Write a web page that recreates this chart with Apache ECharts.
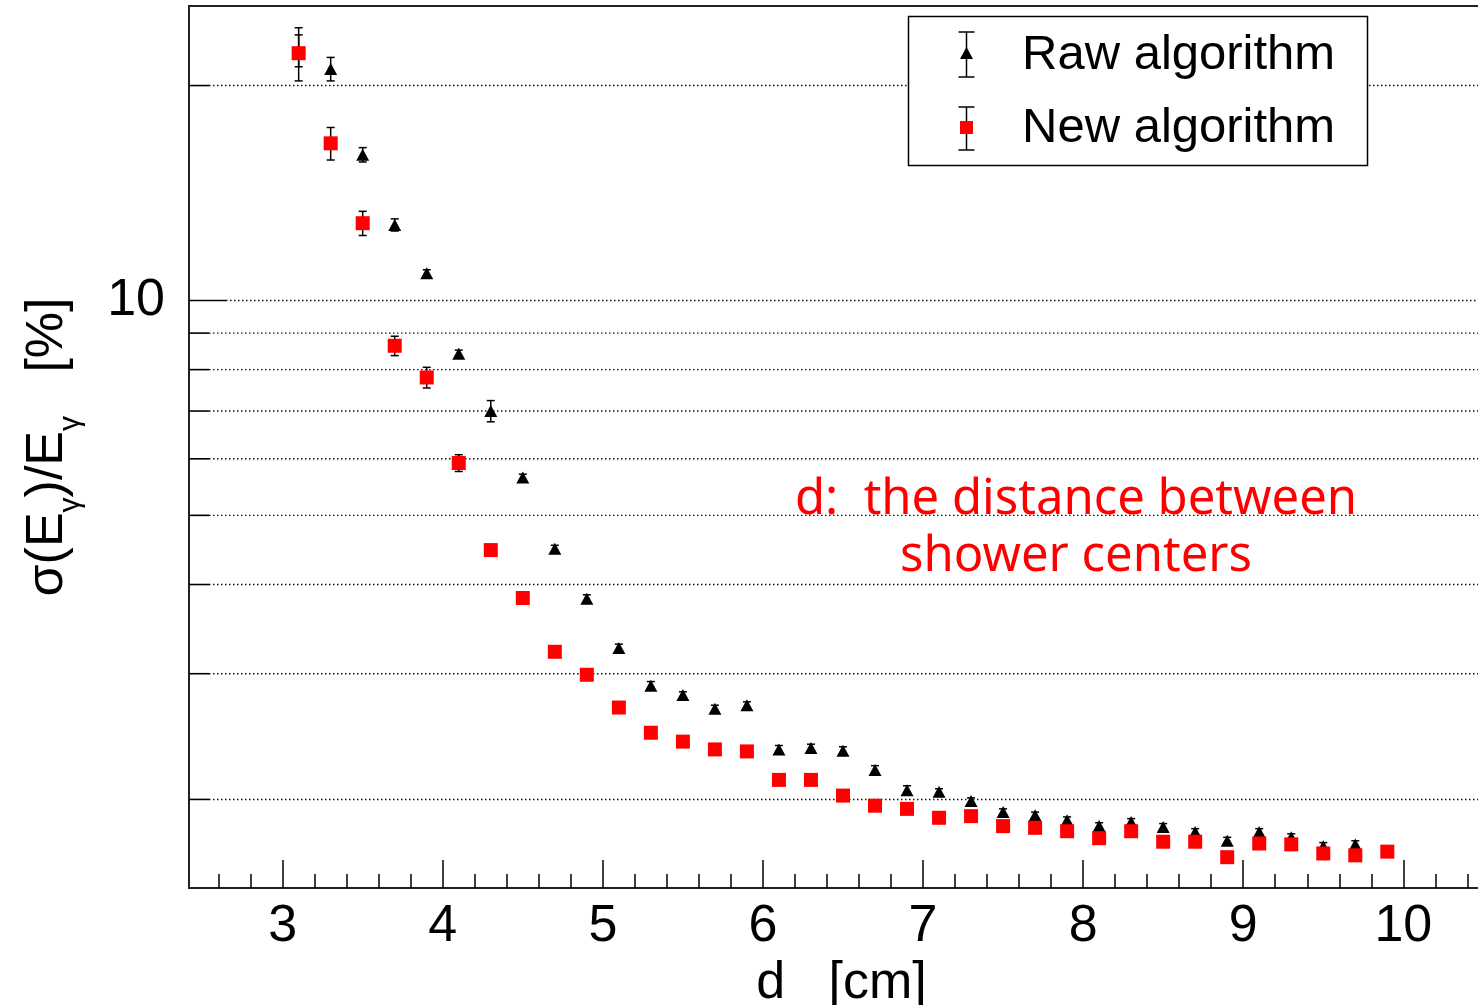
<!DOCTYPE html>
<html>
<head>
<meta charset="utf-8">
<title>Energy resolution vs shower distance</title>
<script src="https://cdn.jsdelivr.net/npm/echarts@6/dist/echarts.min.js"></script>
<style>
  html, body { margin: 0; padding: 0; background: #fff; }
  #chart { width: 1478px; height: 1005px; }
</style>
</head>
<body>
<div id="chart"></div>
<script>
// d [cm] : distance between shower centers
const distance = [3.1, 3.3, 3.5, 3.7, 3.9, 4.1, 4.3, 4.5, 4.7, 4.9,
  5.1, 5.3, 5.5, 5.7, 5.9, 6.1, 6.3, 6.5, 6.7, 6.9,
  7.1, 7.3, 7.5, 7.7, 7.9, 8.1, 8.3, 8.5, 8.7, 8.9,
  9.1, 9.3, 9.5, 9.7, 9.9]

// sigma(E)/E [%]
const rawRes = [22.4, 21.1, 16.0, 12.76, 10.92, 8.42, 7.00, 5.65, 4.49, 3.82,
  3.26, 2.885, 2.80, 2.68, 2.71, 2.35, 2.36, 2.34, 2.20, 2.06,
  2.05, 1.99, 1.92, 1.90, 1.87, 1.835, 1.86, 1.83, 1.80, 1.75,
  1.80, 1.77, 1.72, 1.73, 1.69]
const rawErr = [1.15, 0.8, 0.37, 0.25, 0.12, 0.10, 0.24, 0.06, 0.05, 0.05,
  0.04, 0.04, 0.03, 0.03, 0.03, 0.03, 0.03, 0.03, 0.03, 0.03,
  0.02, 0.02, 0.02, 0.02, 0.02, 0.02, 0.02, 0.02, 0.02, 0.02,
  0.02, 0.02, 0.02, 0.02, 0.02]
const newRes = [22.2, 16.6, 12.83, 8.64, 7.80, 5.92, 4.47, 3.83, 3.22, 2.99,
  2.69, 2.48, 2.41, 2.35, 2.335, 2.13, 2.13, 2.025, 1.96, 1.94,
  1.885, 1.895, 1.835, 1.825, 1.805, 1.765, 1.805, 1.745, 1.745, 1.66,
  1.735, 1.73, 1.68, 1.67, 1.69]
const newErr = [1.9, 0.87, 0.5, 0.27, 0.26, 0.16, 0.06, 0.05, 0.04, 0.04,
  0.04, 0.03, 0.03, 0.03, 0.03, 0.03, 0.03, 0.03, 0.02, 0.02,
  0.02, 0.02, 0.02, 0.02, 0.02, 0.02, 0.02, 0.02, 0.02, 0.02,
  0.02, 0.02, 0.02, 0.02, 0.02]

const xMajorTicks = [3, 4, 5, 6, 7, 8, 9, 10]
const xMinorTicks = [2.6, 2.8, 3.2, 3.4, 3.6, 3.8, 4.2, 4.4, 4.6, 4.8,
  5.2, 5.4, 5.6, 5.8, 6.2, 6.4, 6.6, 6.8, 7.2, 7.4, 7.6, 7.8,
  8.2, 8.4, 8.6, 8.8, 9.2, 9.4, 9.6, 9.8, 10.2, 10.4]
const yGridValues = [2, 3, 4, 5, 6, 7, 8, 9, 10, 20]
const yMajorTicks = [10]

const xMin = 2.415
const xMax = 10.479
const yMin = 1.503
const yMax = 25.85

const FONT = '"Liberation Sans", Arial, Helvetica, sans-serif'
const NOTE_FONT = '49px "Noto Sans", "Noto Sans CJK SC", sans-serif'

const chart = echarts.init(document.getElementById('chart'))

// error bar: vertical line with small caps
const errorBarItem = (params, api) => {
  const x = api.value(0)
  const y = api.value(1)
  const e = api.value(2)
  const top = api.coord([x, y + e])
  const bot = api.coord([x, y - e])
  const cap = 4
  const style = { stroke: '#000', lineWidth: 1.5 }
  return {
    type: 'group',
    children: [
      { type: 'line', shape: { x1: top[0], y1: top[1], x2: bot[0], y2: bot[1] }, style },
      { type: 'line', shape: { x1: top[0] - cap, y1: top[1], x2: top[0] + cap, y2: top[1] }, style },
      { type: 'line', shape: { x1: bot[0] - cap, y1: bot[1], x2: bot[0] + cap, y2: bot[1] }, style }
    ]
  }
}

// dotted horizontal grid + inside tick on the log axis
const gridLineItem = (params, api) => {
  const v = api.value(1)
  const cs = params.coordSys
  const p = api.coord([xMin, v])
  const tickLen = yMajorTicks.includes(v) ? 37 : 20
  return {
    type: 'group',
    children: [
      {
        type: 'line',
        shape: { x1: cs.x + tickLen, y1: p[1], x2: cs.x + cs.width, y2: p[1] },
        style: { stroke: '#111', lineWidth: 1.4, lineDash: [1.5, 2.5] }
      },
      {
        type: 'line',
        shape: { x1: cs.x, y1: p[1], x2: cs.x + tickLen, y2: p[1] },
        style: { stroke: '#000', lineWidth: 1.6 }
      }
    ]
  }
}

const option = {
  animation: false,
  backgroundColor: '#fff',
  grid: {
    left: 189,
    right: -2,
    top: 6,
    bottom: 117,
    show: true,
    borderColor: '#222',
    borderWidth: 2,
    containLabel: false,
    outerBoundsMode: 'none'
  },
  xAxis: [
    {
      type: 'value',
      min: xMin,
      max: xMax,
      position: 'bottom',
      name: 'd   [cm]',
      nameLocation: 'middle',
      nameGap: 62,
      nameTextStyle: { fontFamily: FONT, fontSize: 52, color: '#000', padding: [0, 0, 0, 14] },
      axisLine: { show: true, onZero: false, lineStyle: { color: '#222', width: 2 } },
      axisTick: { show: true, inside: true, length: 28, customValues: xMajorTicks, lineStyle: { color: '#000', width: 1.5 } },
      axisLabel: { show: true, customValues: xMajorTicks, margin: 13, fontFamily: FONT, fontSize: 52, color: '#000' },
      splitLine: { show: false }
    },
    {
      type: 'value',
      min: xMin,
      max: xMax,
      position: 'bottom',
      axisLine: { show: false },
      axisTick: { show: true, inside: true, length: 14, customValues: xMinorTicks, lineStyle: { color: '#000', width: 1.5 } },
      axisLabel: { show: false },
      splitLine: { show: false }
    }
  ],
  yAxis: {
    type: 'log',
    logBase: 10,
    min: yMin,
    max: yMax,
    name: '{n|σ(E}{s|γ}{n|)/E}{s|γ}{n|   [%]}',
    nameLocation: 'middle',
    nameRotate: 90,
    nameGap: 103,
    nameTextStyle: {
      fontFamily: FONT,
      fontSize: 52,
      color: '#000',
      rich: {
        n: { fontFamily: FONT, fontSize: 52, color: '#000' },
        s: { fontFamily: FONT, fontSize: 30, color: '#000', padding: [46, 0, 0, 0] }
      }
    },
    axisLine: { show: true, onZero: false, lineStyle: { color: '#222', width: 2 } },
    axisTick: { show: false },
    axisLabel: {
      show: true,
      showMinLabel: false,
      showMaxLabel: false,
      margin: 24,
      fontFamily: FONT,
      fontSize: 52,
      color: '#000',
      formatter: (v) => (yMajorTicks.some(t => Math.abs(v - t) < 1e-6) ? String(Math.round(v)) : '')
    },
    splitLine: { show: false }
  },
  series: [
    {
      name: 'grid',
      type: 'custom',
      silent: true,
      z: 1,
      renderItem: gridLineItem,
      encode: { x: 0, y: 1 },
      data: yGridValues.map(v => [xMin, v])
    },
    {
      name: 'Raw algorithm errors',
      type: 'custom',
      z: 2,
      renderItem: errorBarItem,
      encode: { x: 0, y: 1 },
      data: distance.map((d, i) => [d, rawRes[i], rawErr[i]])
    },
    {
      name: 'Raw algorithm',
      type: 'scatter',
      z: 3,
      symbol: 'triangle',
      symbolSize: [13, 12],
      itemStyle: { color: '#000', opacity: 1 },
      data: distance.map((d, i) => [d, rawRes[i]])
    },
    {
      name: 'New algorithm errors',
      type: 'custom',
      z: 4,
      renderItem: errorBarItem,
      encode: { x: 0, y: 1 },
      data: distance.map((d, i) => [d, newRes[i], newErr[i]])
    },
    {
      name: 'New algorithm',
      type: 'scatter',
      z: 5,
      symbol: 'rect',
      symbolSize: 14,
      itemStyle: { color: '#ff0000', opacity: 1 },
      data: distance.map((d, i) => [d, newRes[i]])
    }
  ],
  graphic: [
    // legend box
    {
      type: 'rect',
      z: 10,
      shape: { x: 908.5, y: 16.5, width: 459, height: 149 },
      style: { fill: '#fff', stroke: '#000', lineWidth: 1.5 }
    },
    { type: 'line', z: 11, shape: { x1: 966.5, y1: 32, x2: 966.5, y2: 77 }, style: { stroke: '#000', lineWidth: 1.5 } },
    { type: 'line', z: 11, shape: { x1: 958.5, y1: 32, x2: 974.5, y2: 32 }, style: { stroke: '#000', lineWidth: 1.5 } },
    { type: 'line', z: 11, shape: { x1: 958.5, y1: 77, x2: 974.5, y2: 77 }, style: { stroke: '#000', lineWidth: 1.5 } },
    { type: 'polygon', z: 12, shape: { points: [[966.5, 47], [960, 59], [973, 59]] }, style: { fill: '#000' } },
    { type: 'line', z: 11, shape: { x1: 966.5, y1: 107, x2: 966.5, y2: 150 }, style: { stroke: '#000', lineWidth: 1.5 } },
    { type: 'line', z: 11, shape: { x1: 958.5, y1: 107, x2: 974.5, y2: 107 }, style: { stroke: '#000', lineWidth: 1.5 } },
    { type: 'line', z: 11, shape: { x1: 958.5, y1: 150, x2: 974.5, y2: 150 }, style: { stroke: '#000', lineWidth: 1.5 } },
    { type: 'rect', z: 12, shape: { x: 960, y: 121, width: 13, height: 13 }, style: { fill: '#ff0000' } },
    {
      type: 'text', z: 12, x: 1022, y: 55,
      style: { text: 'Raw algorithm', font: '49px ' + FONT, fill: '#000', align: 'left', verticalAlign: 'middle' }
    },
    {
      type: 'text', z: 12, x: 1022, y: 128,
      style: { text: 'New algorithm', font: '49px ' + FONT, fill: '#000', align: 'left', verticalAlign: 'middle' }
    },
    // annotation
    {
      type: 'text', z: 12, x: 1076, y: 500,
      style: { text: 'd:  the distance between', font: NOTE_FONT, fill: '#ff0000', align: 'center', verticalAlign: 'middle' }
    },
    {
      type: 'text', z: 12, x: 1076, y: 557,
      style: { text: 'shower centers', font: NOTE_FONT, fill: '#ff0000', align: 'center', verticalAlign: 'middle' }
    }
  ]
}

chart.setOption(option)

window.addEventListener('resize', () => {
  chart.resize()
})
</script>
</body>
</html>
